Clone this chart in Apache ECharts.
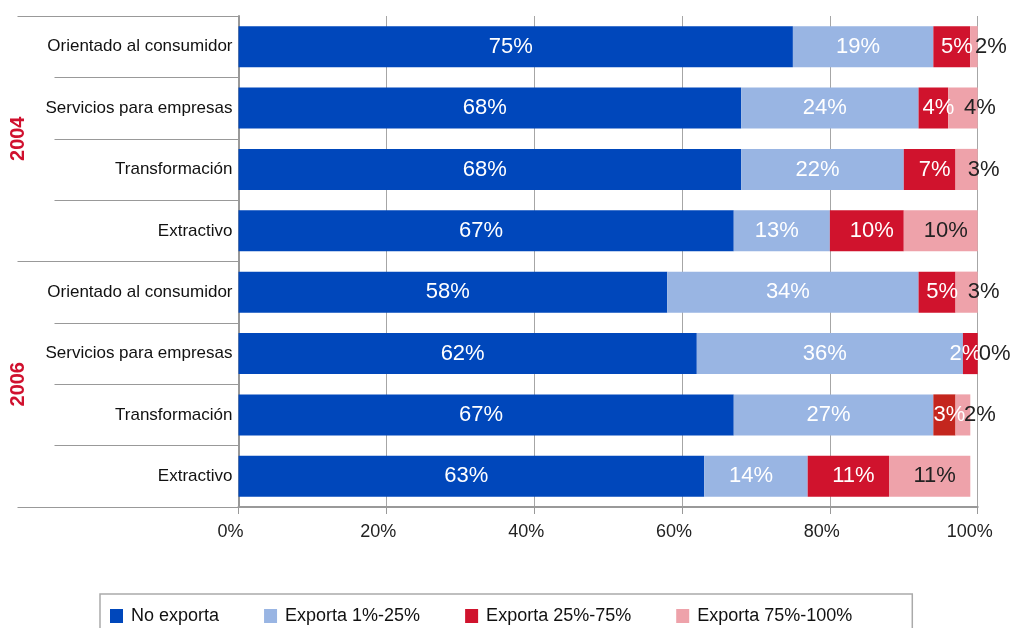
<!DOCTYPE html>
<html>
<head>
<meta charset="utf-8">
<script src="https://cdn.jsdelivr.net/npm/echarts@6/dist/echarts.min.js"></script>
<style>
  html, body { margin: 0; padding: 0; background: #ffffff; }
  #chart { width: 1014px; height: 628px; }
</style>
</head>
<body>
<div id="chart"></div>
<script>
// Export share of firms by sector, 2004 vs 2006 (percent of firms)
const years = ['2004', '2006'];
const sectors = ['Orientado al consumidor', 'Servicios para empresas', 'Transformación', 'Extractivo'];
const categories = [...sectors, ...sectors];
const seriesNames = ['No exporta', 'Exporta 1%-25%', 'Exporta 25%-75%', 'Exporta 75%-100%'];

const noExporta     = [75, 68, 68, 67, 58, 62, 67, 63];
const exporta1a25   = [19, 24, 22, 13, 34, 36, 27, 14];
const exporta25a75  = [5, 4, 7, 10, 5, 2, 3, 11];
const exporta75a100 = [2, 4, 3, 10, 3, 0, 2, 11];

const xTickValues = [0, 20, 40, 60, 80, 100];

const FONT = "'Liberation Sans', Arial, sans-serif";
const colors = ['#0047BB', '#99B5E3', '#D0132D', '#EEA2AA'];
const labelColors = ['#ffffff', '#ffffff', '#ffffff', '#222222'];
// one 25%-75% segment is drawn in a warmer red
const warmRedIndex = 6;
const warmRed = '#C4261E';

const seriesValues = [noExporta, exporta1a25, exporta25a75, exporta75a100];

function labelOffset(seriesIdx, v) {
  if (seriesIdx <= 1) return [-5, 0];
  if (seriesIdx === 2) return v <= 2 ? [-5, 0] : [5, 0];
  return v >= 10 ? [5, 0] : [17, 0];
}

const series = seriesValues.map((vals, si) => ({
  name: seriesNames[si],
  type: 'bar',
  stack: 'total',
  barWidth: '67%',
  itemStyle: { color: colors[si] },
  label: {
    show: true,
    position: 'inside',
    color: labelColors[si],
    fontFamily: FONT,
    fontSize: 22,
    formatter: p => vals[p.dataIndex] + '%'
  },
  data: vals.map((v, i) => {
    const item = { value: v, label: { offset: labelOffset(si, v) } };
    if (si === 2 && i === warmRedIndex) item.itemStyle = { color: warmRed };
    return item;
  })
}));

const chart = echarts.init(document.getElementById('chart'));
chart.setOption({
  animation: false,
  backgroundColor: '#ffffff',
  textStyle: { fontFamily: FONT },
  grid: { left: 238.5, right: 36.3, top: 16, bottom: 121 },
  legend: {
    data: seriesNames,
    left: 100,
    top: 594,
    icon: 'rect',
    itemWidth: 13,
    itemHeight: 14,
    itemGap: 45,
    padding: [13, 60, 40, 10],
    borderColor: '#aaaaaa',
    borderWidth: 1.5,
    textStyle: { fontFamily: FONT, fontSize: 18, color: '#111111', padding: [0, 0, 0, 3] }
  },
  xAxis: {
    type: 'value',
    min: xTickValues[0],
    max: xTickValues[xTickValues.length - 1],
    interval: xTickValues[1] - xTickValues[0],
    axisLine: { show: true, lineStyle: { color: '#999999', width: 2 } },
    axisTick: { show: true, length: 7, lineStyle: { color: '#999999', width: 1 } },
    splitLine: { show: true, lineStyle: { color: '#a6a6a6', width: 1 } },
    axisLabel: {
      formatter: '{value}%',
      fontFamily: FONT,
      fontSize: 18,
      color: '#222222',
      margin: 16,
      padding: [0, 16, 0, 0]
    }
  },
  yAxis: [
    {
      type: 'category',
      data: categories,
      inverse: true,
      axisLine: { show: true, lineStyle: { color: '#999999', width: 2 } },
      axisTick: { show: true, interval: 0, length: 184, lineStyle: { color: '#999999', width: 1 } },
      axisLabel: { interval: 0, fontFamily: FONT, fontSize: 17, color: '#111111', margin: 6 },
      splitLine: { show: false }
    },
    {
      type: 'category',
      data: years,
      inverse: true,
      position: 'left',
      axisLine: { show: false },
      axisTick: { show: true, interval: 0, length: 221, lineStyle: { color: '#999999', width: 1 } },
      axisLabel: {
        interval: 0,
        rotate: 90,
        fontFamily: FONT,
        fontSize: 20,
        fontWeight: 'bold',
        color: '#D0102E',
        margin: 210
      },
      splitLine: { show: false }
    }
  ],
  series: series
});
</script>
</body>
</html>
